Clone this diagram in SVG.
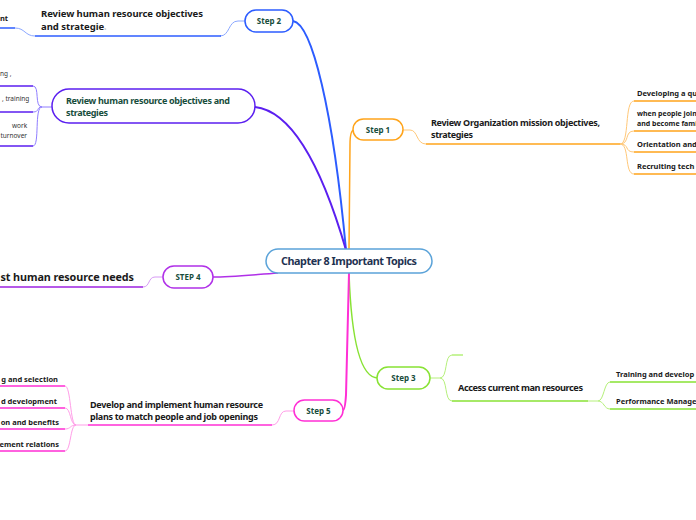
<svg xmlns="http://www.w3.org/2000/svg" width="696" height="520" viewBox="0 0 696 520">
<style>
text{font-family:"Noto Sans","Open Sans","Liberation Sans",sans-serif;font-weight:bold}
.step{font-size:8px;fill:#174d3c;text-anchor:middle}
.topic{font-size:9px;fill:#1a1a1a}
.item{font-size:7.5px;fill:#1a1a1a}
.small{font-size:6.5px;fill:#333;font-weight:normal}
.box{fill:#fff;stroke-width:1.5}
.c{fill:none}
</style>
<rect width="696" height="520" fill="#fff"/>
<g id="connectors">
  <path class="c" d="M293,21 C312,24 333,110 346,250" stroke="#2c5cff" stroke-width="2"/>
  <path class="c" d="M255,107 C300,112 330,195 346,250" stroke="#5b1ff0" stroke-width="2"/>
  <path class="c" d="M349,250 L350,145 Q350,130 354,130" stroke="#ffa41b" stroke-width="1.5"/>
  <path class="c" d="M349,273 C351,330 358,378 378,378" stroke="#88e234" stroke-width="1.5"/>
  <path class="c" d="M278,273 C250,275 230,277 213,277" stroke="#b030e8" stroke-width="1.5"/>
  <path class="c" d="M349,273 L346,395 Q345,410 343,410" stroke="#ff2fd5" stroke-width="2"/>
  <path class="c" d="M245,21 L238,21 C228,21 230,36 220,36" stroke="#8ca8ff" stroke-width="1"/>
  <path class="c" d="M221,36 L35,36" stroke="#2c5cff" stroke-width="1.5"/>
  <path class="c" d="M35,36 C25,36 25,28 15,28" stroke="#8ca8ff" stroke-width="1"/>
  <path class="c" d="M15,28 L0,28" stroke="#2c5cff" stroke-width="1.5"/>
  <path class="c" d="M52,107 L42,107 C34,107 40,86 33,86 M42,107 C36,107 40,112 33,112 M42,107 C34,107 40,146 33,146" stroke="#8f7dff" stroke-width="1"/>
  <path class="c" d="M0,86 L33,86 M0,112 L33,112 M0,146 L33,146" stroke="#5b1ff0" stroke-width="1.5"/>
  <path class="c" d="M403,130 L410,130 C418,130 416,144 426,144" stroke="#ffc878" stroke-width="1"/>
  <path class="c" d="M426,144 L620,144" stroke="#ffa41b" stroke-width="1.5"/>
  <path class="c" d="M620,144 C630,144 624,101 634,101 M620,144 C630,144 624,131 634,131 M620,144 C630,144 624,152 634,152 M620,144 C630,144 624,174 634,174" stroke="#ffc878" stroke-width="1"/>
  <path class="c" d="M634,101 L696,101 M634,131 L696,131 M634,152 L696,152 M634,174 L696,174" stroke="#ffa41b" stroke-width="1.5"/>
  <path class="c" d="M430,378 L440,378 C448,378 444,355 452,355 M440,378 C448,378 444,401 452,401" stroke="#b5f07a" stroke-width="1"/>
  <path class="c" d="M452,355 L463,355" stroke="#b5f07a" stroke-width="1.5"/>
  <path class="c" d="M452,401 L588,401" stroke="#88e234" stroke-width="1.5"/>
  <path class="c" d="M588,401 L598,401 C604,401 604,382 610,382 M598,401 C604,401 604,409 610,409" stroke="#b5f07a" stroke-width="1"/>
  <path class="c" d="M610,382 L696,382 M610,409 L696,409" stroke="#88e234" stroke-width="1.5"/>
  <path class="c" d="M163,277 L155,277 C148,277 150,287 143,287" stroke="#d79af5" stroke-width="1"/>
  <path class="c" d="M143,287 L0,287" stroke="#9c22e0" stroke-width="1.5"/>
  <path class="c" d="M294,411 L286,411 C278,411 281,425 272,425" stroke="#ff9de8" stroke-width="1"/>
  <path class="c" d="M272,425 L88,425" stroke="#ff2fd5" stroke-width="1.5"/>
  <path class="c" d="M88,425 L76,425 C70,425 71,386 65,386 M76,425 C70,425 71,408 65,408 M76,425 C70,425 71,429 65,429 M76,425 C70,425 71,451 65,451" stroke="#ff9de8" stroke-width="1"/>
  <path class="c" d="M0,386 L65,386 M0,408 L65,408 M0,429 L65,429 M0,451 L65,451" stroke="#ff2fd5" stroke-width="1.5"/>
</g>
<g id="central">
  <rect class="box" x="266" y="249" width="166" height="24" rx="12" stroke="#5ba3d9"/>
  <text x="281" y="265" textLength="136" lengthAdjust="spacing" style="font-size:10.8px;fill:#1f3352">Chapter 8 Important Topics</text>
</g>
<g id="step2">
  <rect class="box" x="245" y="10" width="48" height="22" rx="11" stroke="#2c5cff"/>
  <text class="step" x="269" y="24">Step 2</text>
</g>
<g id="step2-topic">
  <text class="topic" x="41" y="17" textLength="162" lengthAdjust="spacing" style="font-size:9.5px">Review human resource objectives</text>
  <text class="topic" x="41" y="30" style="font-size:9.5px">and strategie<tspan style="font-size:4px;fill:#999;font-weight:normal">s</tspan></text>
</g>
<g id="step2-item"><text class="item" x="0" y="21">nt</text></g>
<g id="purple-node">
  <rect class="box" x="52" y="89" width="203" height="34" rx="17" stroke="#5b1ff0"/>
  <text class="topic" x="66" y="104" textLength="164" lengthAdjust="spacing" style="fill:#174d3c">Review human resource objectives and</text>
  <text class="topic" x="66" y="116" textLength="42" lengthAdjust="spacing" style="fill:#174d3c">strategies</text>
</g>
<g id="purple-item1"><text class="small" x="0" y="76">ng ,</text></g>
<g id="purple-item2"><text class="small" x="2" y="101">, training</text></g>
<g id="purple-item3"><text class="small" x="12" y="128">work</text><text class="small" x="0.5" y="138">turnover</text></g>
<g id="step1">
  <rect class="box" x="353" y="119" width="50" height="21" rx="10.5" stroke="#ffa41b"/>
  <text class="step" x="378" y="133">Step 1</text>
</g>
<g id="step1-topic">
  <text class="topic" x="431" y="126" textLength="169" lengthAdjust="spacing">Review Organization mission objectives,</text>
  <text class="topic" x="431" y="138" textLength="42" lengthAdjust="spacing">strategies</text>
</g>
<g id="step1-item1"><text class="item" x="637" y="96">Developing a qu</text></g>
<g id="step1-item2"><text class="item" x="637" y="116" style="font-size:7px">when people join</text><text class="item" x="637" y="126" style="font-size:7px">and become fami</text></g>
<g id="step1-item3"><text class="item" x="637" y="147">Orientation and</text></g>
<g id="step1-item4"><text class="item" x="637" y="169">Recruiting tech</text></g>
<g id="step3">
  <rect class="box" x="377" y="367" width="53" height="22" rx="11" stroke="#88e234"/>
  <text class="step" x="403.5" y="381">Step 3</text>
</g>
<g id="step3-topic"><text class="topic" x="458" y="391" textLength="125" lengthAdjust="spacing" style="font-size:9.2px">Access current man resources</text></g>
<g id="step3-item1"><text class="item" x="616" y="377">Training and develop</text></g>
<g id="step3-item2"><text class="item" x="616" y="404">Performance Manage</text></g>
<g id="step4">
  <rect class="box" x="163" y="266" width="50" height="22" rx="11" stroke="#b030e8"/>
  <text class="step" x="188" y="280">STEP 4</text>
</g>
<g id="step4-topic"><text class="topic" x="0.5" y="281" textLength="133.5" lengthAdjust="spacing" style="font-size:10.8px">st human resource needs</text></g>
<g id="step5">
  <rect class="box" x="294" y="400" width="49" height="21" rx="10.5" stroke="#ff2fd5"/>
  <text class="step" x="318.5" y="414">Step 5</text>
</g>
<g id="step5-topic">
  <text class="topic" x="90" y="408" textLength="173" lengthAdjust="spacing">Develop and implement human resource</text>
  <text class="topic" x="90" y="420" textLength="168" lengthAdjust="spacing">plans to match people and job openings</text>
</g>
<g id="step5-item1"><text class="item" x="58" y="382" text-anchor="end">g and selection</text></g>
<g id="step5-item2"><text class="item" x="57" y="404" text-anchor="end">d development</text></g>
<g id="step5-item3"><text class="item" x="59" y="425" text-anchor="end">on and benefits</text></g>
<g id="step5-item4"><text class="item" x="59" y="447" text-anchor="end">ement relations</text></g>
</svg>
